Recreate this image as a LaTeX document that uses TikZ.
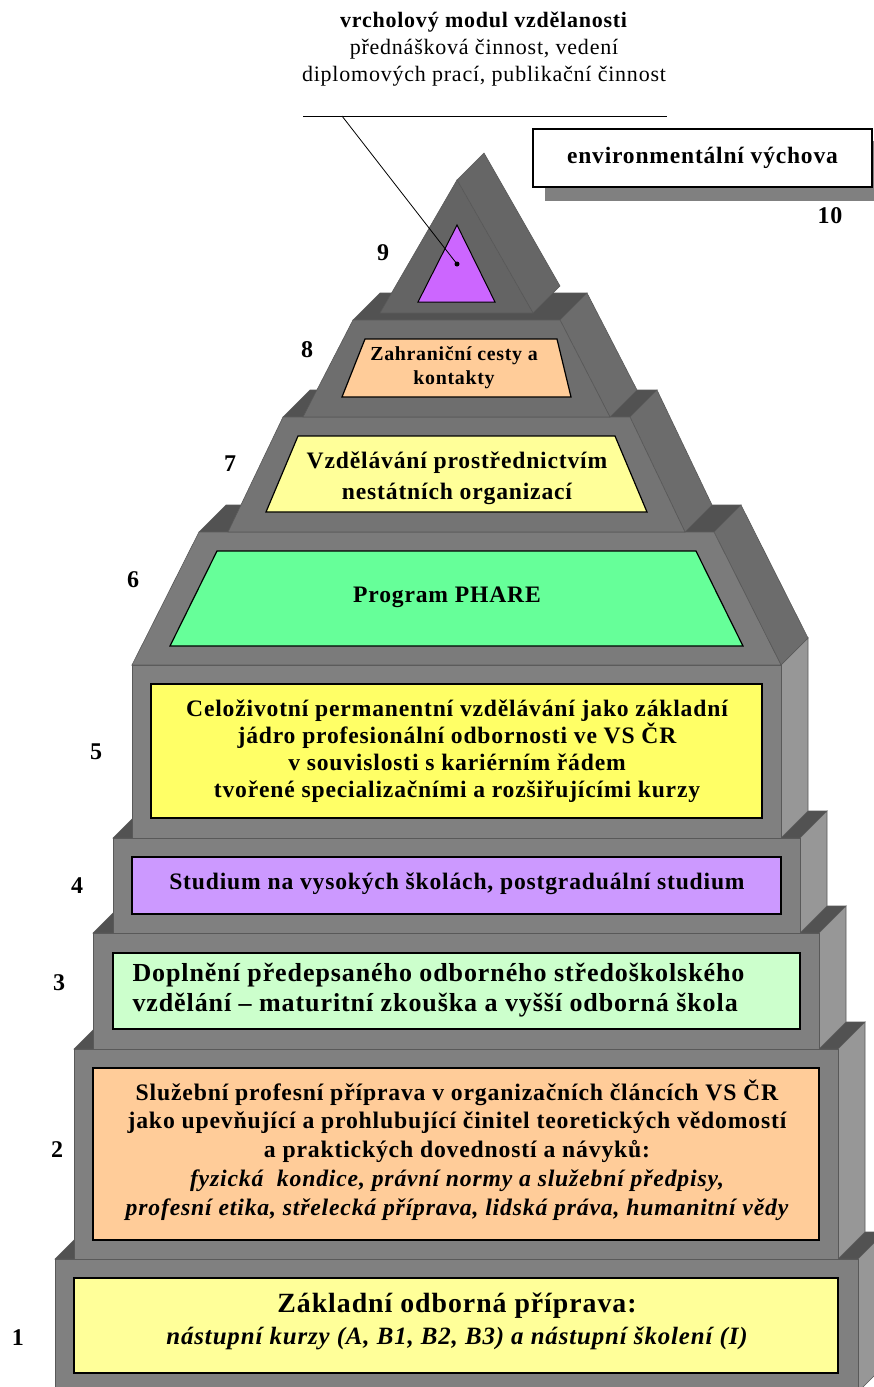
\documentclass[tikz,border=0pt]{standalone}
\usepackage{fontspec}
\setmainfont{Liberation Serif}[LetterSpace=3.5]

\definecolor{edgegray}{HTML}{595959}
\definecolor{frontgray}{HTML}{808080}
\definecolor{topgray}{HTML}{525252}
\definecolor{sidegray}{HTML}{979797}
\definecolor{slantgray}{HTML}{6C6C6C}
\definecolor{panelyellow}{HTML}{FFFF99}
\definecolor{panelorange}{HTML}{FFCC99}
\definecolor{panelmint}{HTML}{CCFFCC}
\definecolor{panellilac}{HTML}{CC99FF}
\definecolor{panellemon}{HTML}{FFFF66}
\definecolor{panelgreen}{HTML}{66FF99}
\definecolor{panelviolet}{HTML}{CC66FF}

\begin{document}
\begin{tikzpicture}[
  x=1pt, y=-1pt,
  face/.style={draw=edgegray, line width=0.6pt},
  frontface/.style={face, fill=frontgray},
  topface/.style={face, fill=topgray},
  sideface/.style={face, fill=sidegray},
  slantface/.style={face, fill=slantgray},
  panel/.style={draw=black, line width=1.2pt},
  num/.style={font=\fontsize{24}{26}\selectfont\bfseries},
  tiertext/.style={align=center, font=\fontsize{23.6}{27}\selectfont\bfseries}
]
  \useasboundingbox (0,0) rectangle (874,1387);

  % tier 1
  \path[topface] (55,1259) -- (858,1259) -- (885,1232) -- (82,1232) -- cycle;
  \path[sideface] (858,1259) -- (885,1232) -- (885,1365) -- (858,1392) -- cycle;
  \path[frontface] (55,1259) rectangle (858,1392);
  \path[panel, fill=panelyellow] (74,1278) rectangle (838,1373);

  % tier 2
  \path[topface] (74,1049) -- (838,1049) -- (865,1022) -- (101,1022) -- cycle;
  \path[sideface] (838,1049) -- (865,1022) -- (865,1232) -- (838,1259) -- cycle;
  \path[frontface] (74,1049) rectangle (838,1259);
  \path[panel, fill=panelorange] (93,1068) rectangle (819,1240);

  % tier 3
  \path[topface] (93,933) -- (819,933) -- (846,906) -- (120,906) -- cycle;
  \path[sideface] (819,933) -- (846,906) -- (846,1022) -- (819,1049) -- cycle;
  \path[frontface] (93,933) rectangle (819,1049);
  \path[panel, fill=panelmint] (113,953) rectangle (800,1029);

  % tier 4
  \path[topface] (113,838) -- (800,838) -- (827,811) -- (140,811) -- cycle;
  \path[sideface] (800,838) -- (827,811) -- (827,906) -- (800,933) -- cycle;
  \path[frontface] (113,838) rectangle (800,933);
  \path[panel, fill=panellilac] (132,857) rectangle (781,914);

  % tier 5
  \path[topface] (132,665) -- (781,665) -- (808,638) -- (159,638) -- cycle;
  \path[sideface] (781,665) -- (808,638) -- (808,811) -- (781,838) -- cycle;
  \path[frontface] (132,665) rectangle (781,838);
  \path[panel, fill=panellemon] (151,684) rectangle (762,818);

  % tier 6
  \path[topface] (199,532) -- (714,532) -- (741,505) -- (226,505) -- cycle;
  \path[slantface] (781,665) -- (714,532) -- (741,505) -- (808,638) -- cycle;
  \path[frontface, fill=frontgray!96!black] (132,665) -- (781,665) -- (714,532) -- (199,532) -- cycle;
  \path[panel, fill=panelgreen] (170,646) -- (743,646) -- (696,551) -- (217,551) -- cycle;

  % tier 7
  \path[topface] (283,417) -- (630,417) -- (657,390) -- (310,390) -- cycle;
  \path[slantface] (685,532) -- (630,417) -- (657,390) -- (712,505) -- cycle;
  \path[frontface, fill=frontgray!91!black] (228,532) -- (685,532) -- (630,417) -- (283,417) -- cycle;
  \path[panel, fill=panelyellow] (266,512) -- (647,512) -- (615,436) -- (298,436) -- cycle;

  % tier 8
  \path[topface] (353,320) -- (560,320) -- (587,293) -- (380,293) -- cycle;
  \path[slantface] (610,417) -- (560,320) -- (587,293) -- (637,390) -- cycle;
  \path[frontface, fill=frontgray!86!black] (303,417) -- (610,417) -- (560,320) -- (353,320) -- cycle;
  \path[panel, fill=panelorange] (342,397) -- (571,397) -- (557,339) -- (365,339) -- cycle;

  % tier 9
  \path[slantface, fill=slantgray!104] (533,313) -- (457,180) -- (484,153) -- (560,286) -- cycle;
  \path[frontface, fill=frontgray!78!black] (380,313) -- (533,313) -- (457,180) -- cycle;
  \path[draw=black, line width=1pt, fill=panelviolet] (418,302) -- (495,302) -- (457,225) -- cycle;

  % texts on the tiers
  \node[font=\fontsize{27.8}{30}\selectfont\bfseries] (basic) at (457,1306) {Základní odborná příprava:};
  \node[font=\fontsize{24.9}{26}\selectfont\bfseries\itshape] (basicsub) at (457,1338)
    {nástupní kurzy (A, B1, B2, B3) a nástupní školení (I)};
  \node[tiertext, font=\fontsize{23.7}{28.8}\selectfont\bfseries] (service) at (457,1150)
    {Služební profesní příprava v organizačních článcích VS ČR\\
     jako upevňující a prohlubující činitel teoretických vědomostí\\
     a praktických dovedností a návyků:\\
     \itshape fyzická\ \ kondice, právní normy a služební předpisy,\\
     \itshape profesní etika, střelecká příprava, lidská práva, humanitní vědy};
  \node[tiertext, align=left, anchor=west, font=\fontsize{26}{30}\selectfont\bfseries] (school) at (129,990)
    {Doplnění předepsaného odborného středoškolského\\
     vzdělání – maturitní zkouška a vyšší odborná škola};
  \node[tiertext] (univ) at (457,884) {Studium na vysokých školách, postgraduální studium};
  \node[tiertext] (lifelong) at (457,751)
    {Celoživotní permanentní vzdělávání jako základní\\
     jádro profesionální odbornosti ve VS ČR\\
     v souvislosti s kariérním řádem\\
     tvořené specializačními a rozšiřujícími kurzy};
  \node[tiertext] (phare) at (447,597) {Program PHARE};
  \node[tiertext, font=\fontsize{23.6}{31}\selectfont\bfseries] (ngo) at (457,478)
    {Vzdělávání prostřednictvím\\nestátních organizací};
  \node[tiertext, font=\fontsize{19.9}{24}\selectfont\bfseries] (abroad) at (454,368)
    {Zahraniční cesty a\\kontakty};

  % tier numbers
  \node[num] (n1) at (18,1338) {1};
  \node[num] (n2) at (57,1150) {2};
  \node[num] (n3) at (59,983) {3};
  \node[num] (n4) at (77,886) {4};
  \node[num] (n5) at (96,752) {5};
  \node[num] (n6) at (133,580) {6};
  \node[num] (n7) at (230,464) {7};
  \node[num] (n8) at (307,350) {8};
  \node[num] (n9) at (383,253) {9};
  \node[num] (n10) at (830,216) {10};

  % environmental education box
  \fill[frontgray] (545,141) rectangle (874,201);
  \node[draw=black, line width=1.2pt, fill=white, minimum width=339pt, minimum height=58pt,
        font=\fontsize{23.5}{26}\selectfont\bfseries] (envbox) at (702.5,158) {environmentální výchova};

  % peak caption with leader
  \node[align=center, font=\fontsize{22}{27}\selectfont] (peak) at (484,49)
    {\textbf{vrcholový modul vzdělanosti}\\přednášková činnost, vedení\\diplomových prací, publikační činnost};
  \coordinate (ruleL) at (303,116);
  \coordinate (ruleR) at (667,116);
  \coordinate (lead) at (342,116);
  \node[circle, fill=black, inner sep=0pt, minimum size=5pt] (apexdot) at (457,264) {};
  \draw[line width=0.8pt] (ruleL) -- (ruleR);
  \draw[line width=0.8pt] (lead) -- (apexdot.center);
\end{tikzpicture}
\end{document}
